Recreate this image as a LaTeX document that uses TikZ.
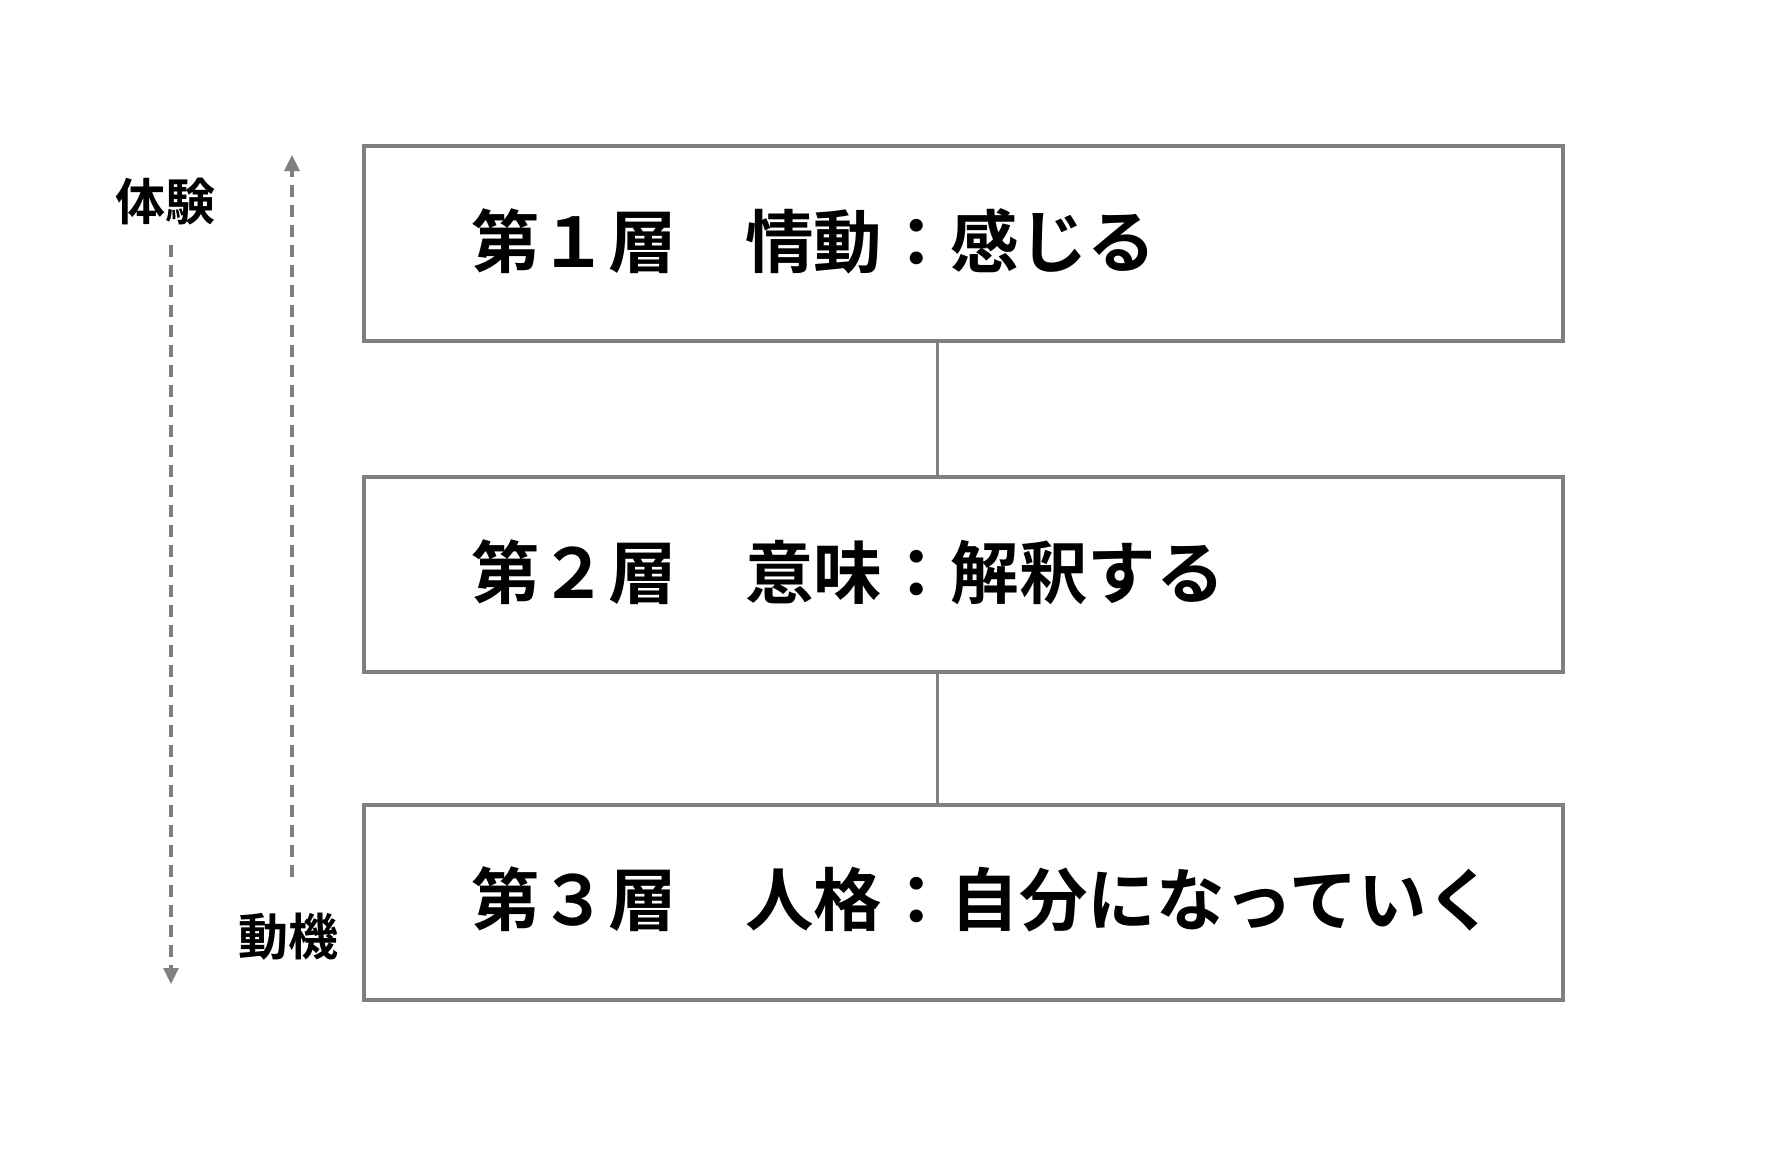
\documentclass[tikz,border=0pt]{standalone}
\usepackage{fontspec}
\newfontfamily\cjk{Noto Sans CJK JP}[BoldFont={Noto Sans CJK JP Bold}]
\usetikzlibrary{arrows.meta}
\begin{document}
\begin{tikzpicture}[x=1pt,y=-1pt,
  layer/.style={draw=gray50,line width=3.5pt,outer sep=0,minimum width=1199pt,minimum height=195pt,inner sep=0,anchor=north west},
  ltext/.style={anchor=west,inner sep=0,font=\cjk\bfseries\fontsize{68.5pt}{68.5pt}\selectfont},
  side/.style={inner sep=0,font=\cjk\bfseries\fontsize{50pt}{50pt}\selectfont},
  dasharrow/.style={draw=gray50,line width=3.2pt,dash pattern=on 12pt off 8pt,-{Triangle[length=16pt,width=15pt]}},
  link/.style={draw=gray50,line width=3pt}]
\definecolor{gray50}{HTML}{808080}
\useasboundingbox (0,0) rectangle (1788,1164);
\fill[white] (0,0) rectangle (1788,1164);
\node[layer] (b1) at (364,146) {};
\node[layer] (b2) at (364,477) {};
\node[layer] (b3) at (364,805) {};
\path[link] (b1.south -| 937,0) -- (b2.north -| 937,0);
\path[link] (b2.south -| 937,0) -- (b3.north -| 937,0);
\node[ltext] (t1) at (471,241) {第１層　情動：感じる};
\node[ltext] (t2) at (471,572) {第２層　意味：解釈する};
\node[ltext] (t3) at (471,899) {第３層　人格：自分になっていく};
\node[side] (exp) at (165,202) {体験};
\node[side] (mot) at (288,937) {動機};
\coordinate (upS) at (292,877);
\coordinate (upE) at (292,155);
\coordinate (dnS) at (171,245);
\coordinate (dnE) at (171,984);
\path[dasharrow] (upS) -- (upE);
\path[dasharrow] (dnS) -- (dnE);
\end{tikzpicture}
\end{document}
